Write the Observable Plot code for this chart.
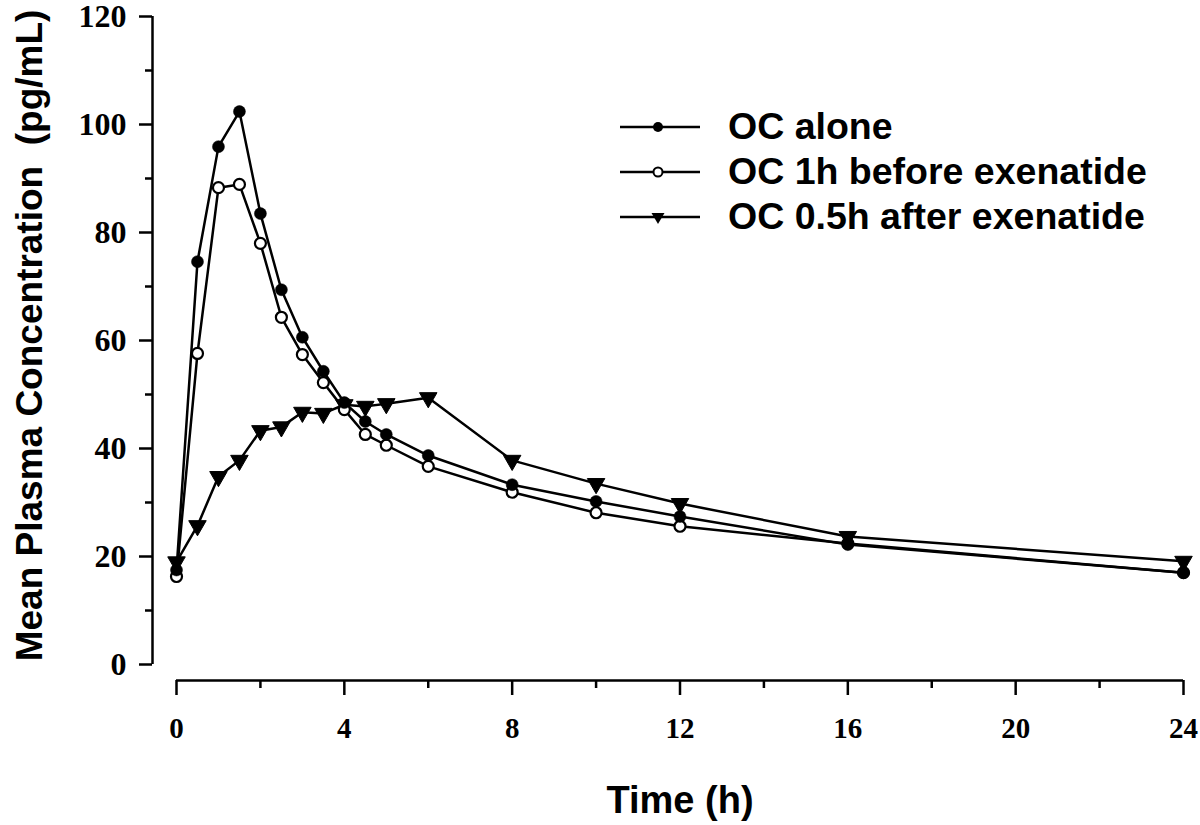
<!DOCTYPE html>
<html>
<head>
<meta charset="utf-8">
<script src="https://cdn.jsdelivr.net/npm/d3@7"></script>
<script src="https://cdn.jsdelivr.net/npm/@observablehq/plot@0.6"></script>
<style>
  html, body { margin: 0; padding: 0; background: #fff; }
  #wrap { position: relative; width: 1200px; height: 825px; }
  #legend { position: absolute; left: 618px; top: 104px; font-family: "Liberation Sans", Arial, sans-serif; font-weight: bold; font-size: 37.5px; color: #000; }
  .row { display: flex; align-items: center; height: 45px; }
  .row svg { margin-right: 26px; }
</style>
</head>
<body>
<div id="wrap"><div id="legend"></div></div>
<script>
const times = [0, 0.5, 1, 1.5, 2, 2.5, 3, 3.5, 4, 4.5, 5, 6, 8, 10, 12, 16, 24];
const ocAlone   = [17.5, 74.6, 95.9, 102.4, 83.5, 69.4, 60.6, 54.3, 48.5, 45.0, 42.6, 38.7, 33.3, 30.2, 27.4, 22.2, 17.0];
const ocBefore  = [16.3, 57.6, 88.3, 88.9, 78.0, 64.3, 57.4, 52.2, 47.2, 42.6, 40.6, 36.7, 31.9, 28.1, 25.6, 22.4, 17.0];
const ocAfter   = [19.0, 25.7, 34.8, 37.8, 43.3, 44.0, 46.7, 46.5, 48.1, 47.8, 48.3, 49.4, 37.8, 33.5, 29.8, 23.7, 19.1];
const seriesNames = ["OC alone", "OC 1h before exenatide", "OC 0.5h after exenatide"];
const xMajor = [0, 4, 8, 12, 16, 20, 24];
const xMinor = [2, 6, 10, 14, 18, 22];
const yMajor = [0, 20, 40, 60, 80, 100, 120];
const yMinor = [10, 30, 50, 70, 90, 110];
const xTitle = "Time (h)";
const yTitle = "Mean Plasma Concentration  (pg/mL)";

const toRows = (vals, name) => times.map((t, i) => ({t, v: vals[i], s: name}));
const dA = toRows(ocAlone, seriesNames[0]);
const dB = toRows(ocBefore, seriesNames[1]);
const dC = toRows(ocAfter, seriesNames[2]);

const serif = "'Liberation Serif', 'Times New Roman', serif";
const sans = "'Liberation Sans', Arial, sans-serif";
const SW = 2.5;

const chart = Plot.plot({
  width: 1200,
  height: 825,
  marginLeft: 176,
  marginRight: 17,
  marginTop: 16,
  marginBottom: 161,
  style: {background: "#fff", overflow: "visible"},
  x: {domain: [0, 24]},
  y: {domain: [0, 120]},
  marks: [
    // y axis
    Plot.ruleX([0], {dx: -24, stroke: "#000", strokeWidth: SW}),
    Plot.axisY({ticks: yMajor, tickSize: 13, tickPadding: 13, dx: -24, label: null, fontFamily: serif, fontWeight: "bold", fontSize: 32, strokeWidth: SW, stroke: "#000", color: "#000"}),
    Plot.axisY({ticks: yMinor, tickSize: 7, text: null, dx: -24, label: null, strokeWidth: SW, stroke: "#000"}),
    // x axis
    Plot.ruleY([0], {dy: 16, stroke: "#000", strokeWidth: SW}),
    Plot.axisX({ticks: xMajor, tickSize: 15, tickPadding: 22, dy: 16, label: null, fontFamily: serif, fontWeight: "bold", fontSize: 29, strokeWidth: SW, stroke: "#000", color: "#000"}),
    Plot.axisX({ticks: xMinor, tickSize: 8, text: null, dy: 16, label: null, strokeWidth: SW, stroke: "#000"}),
    // titles
    Plot.text([xTitle], {frameAnchor: "bottom", dy: 148, fontFamily: sans, fontWeight: "bold", fontSize: 38, fill: "#000"}),
    Plot.text([yTitle], {frameAnchor: "left", textAnchor: "middle", rotate: -90, dx: -146, dy: -5, fontFamily: sans, fontWeight: "bold", fontSize: 37, fill: "#000"}),
    // lines
    Plot.line(dA, {x: "t", y: "v", stroke: "#000", strokeWidth: SW}),
    Plot.line(dB, {x: "t", y: "v", stroke: "#000", strokeWidth: SW}),
    Plot.line(dC, {x: "t", y: "v", stroke: "#000", strokeWidth: SW}),
    // dots
    Plot.dot(dC, {x: "t", y: "v", symbol: "triangle", rotate: 180, r: 6.5, fill: "#000", stroke: "#000", strokeWidth: 1}),
    Plot.dot(dB, {x: "t", y: "v", symbol: "circle", r: 5.5, fill: "#fff", stroke: "#000", strokeWidth: 2.2}),
    Plot.dot(dA, {x: "t", y: "v", symbol: "circle", r: 6, fill: "#000", stroke: "#000", strokeWidth: 0.5}),
  ]
});
document.getElementById("wrap").prepend(chart);

// legend
const legend = d3.select("#legend");
const sym = [
  (g) => g.append("circle").attr("cx", 40).attr("cy", 12).attr("r", 5).attr("fill", "#000"),
  (g) => g.append("circle").attr("cx", 40).attr("cy", 12).attr("r", 4.5).attr("fill", "#fff").attr("stroke", "#000").attr("stroke-width", 2),
  (g) => g.append("path").attr("d", "M33.5,8 L46.5,8 L40,19 Z").attr("fill", "#000")
];
seriesNames.forEach((name, i) => {
  const row = legend.append("div").attr("class", "row");
  const s = row.append("svg").attr("width", 84).attr("height", 24);
  s.append("line").attr("x1", 2).attr("x2", 82).attr("y1", 12).attr("y2", 12).attr("stroke", "#000").attr("stroke-width", 2.5);
  sym[i](s);
  row.append("span").text(name);
});
</script>
</body>
</html>
